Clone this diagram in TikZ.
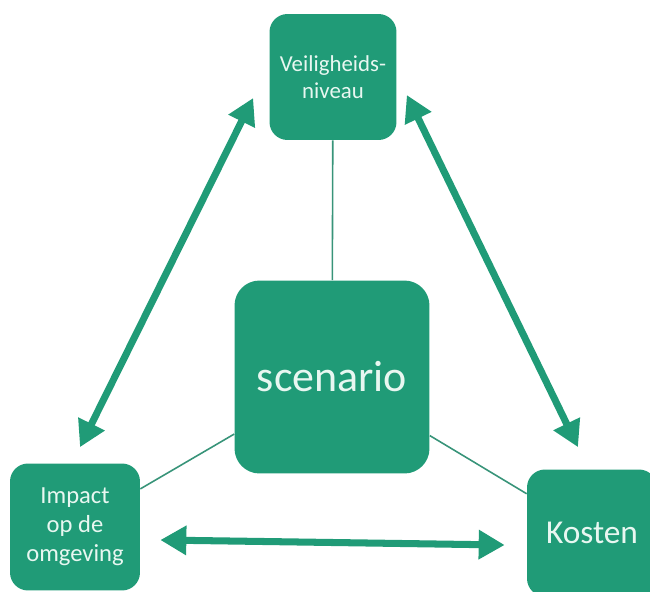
\documentclass[tikz,border=0pt]{standalone}
\usepackage{fontspec}
\setmainfont{Carlito}
\usetikzlibrary{arrows.meta}
\definecolor{groen}{HTML}{209B77}
\definecolor{tekst}{HTML}{E8F7F1}
\begin{document}
\begin{tikzpicture}[x=0.02cm, y=-0.02cm,
    blok/.style={fill=groen, rounded corners=0.36cm, text=tekst, align=center, inner sep=0pt},
    lijn/.style={draw=groen!75!gray, line width=0.9pt},
    pijl/.style={draw=groen, line width=4pt,
        {Triangle[length=0.52cm,width=0.56cm]}-{Triangle[length=0.52cm,width=0.56cm]}}]
    % Kader
    \useasboundingbox (0,0) rectangle (650,592);
    \clip (0,0) rectangle (650,592);
    % Blokken
    \node[blok, minimum width=2.54cm, minimum height=2.52cm,
        font=\fontsize{13}{15.5}\selectfont] (veil) at (333,77) {Veiligheids-\\niveau};
    \node[blok, minimum width=3.9cm, minimum height=3.86cm, rounded corners=0.5cm,
        font=\fontsize{25}{30}\selectfont] (scen) at (332,377) {scenario};
    \node[blok, minimum width=2.6cm, minimum height=2.54cm,
        font=\fontsize{14}{16.5}\selectfont] (imp) at (75,527) {Impact\\op de\\omgeving};
    \node[blok, minimum width=2.6cm, minimum height=2.54cm,
        font=\fontsize{19}{23}\selectfont] (kost) at (592,533) {Kosten};
    % Dunne lijnen naar het scenario
    \draw[lijn] (veil) -- (scen);
    \draw[lijn] (imp) -- (scen);
    \draw[lijn] (kost) -- (scen);
    % Dubbele pijlen
    \draw[pijl] ([shift={(5,-16)}]imp.north) -- ([shift={(-16,21)}]veil.west);
    \draw[pijl] ([shift={(10,18)}]veil.east) -- ([shift={(-14,-22)}]kost.north);
    \draw[pijl] ([shift={(20,13)}]imp.east) -- ([shift={(-22,12)}]kost.west);
\end{tikzpicture}
\end{document}
